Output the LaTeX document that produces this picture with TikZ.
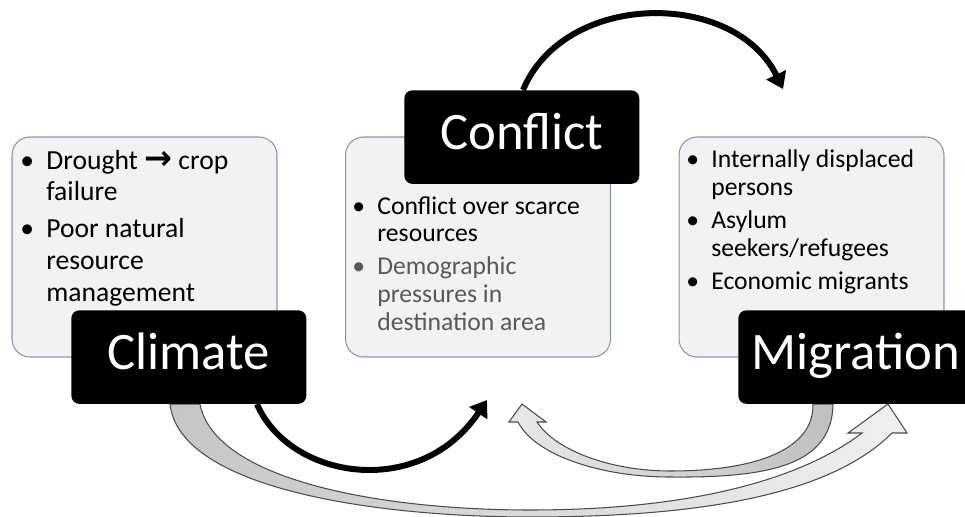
\documentclass[tikz,border=0pt]{standalone}
\usepackage{fontspec}
\setmainfont{Carlito}
\newfontfamily\arrowfont{DejaVu Sans}
\usetikzlibrary{arrows.meta,calc,backgrounds}
\definecolor{boxfill}{HTML}{F2F2F2}
\definecolor{boxline}{HTML}{8497B0}
\definecolor{softtext}{HTML}{595959}
\newcommand{\bul}{\leavevmode\llap{\textbullet\hspace{7pt}}}

\begin{document}
\begin{tikzpicture}[
  x=0.02cm, y=-0.02cm,
  infobox/.style={draw=boxline, fill=boxfill, line width=0.6pt, rounded corners=0.36cm, minimum width=5.3cm, minimum height=4.4cm, inner sep=0pt},
  titlebox/.style={fill=black, text=white, rounded corners=0.16cm, minimum width=4.7cm, minimum height=1.87cm, inner sep=0pt, font=\fontsize{30pt}{36pt}\selectfont, text height=13.6pt, text depth=0pt, anchor=north west},
  bullets/.style={align=left, anchor=north west, inner sep=0pt},
  bigtext/.style={font=\fontsize{15.7pt}{18.2pt}\selectfont},
  smalltext/.style={font=\fontsize{14.6pt}{15.9pt}\selectfont},
  flowline/.style={line width=3.4pt, -{Triangle[length=9pt,width=12pt]}},
  broad/.style={draw=black!70, line width=0.6pt}
]
\useasboundingbox (0,0) rectangle (965,517);
\clip (0,0) rectangle (965,517);

% info boxes
\node[infobox] (climbox) at (144.5,247) {};
\node[infobox] (confbox) at (478,247) {};
\node[infobox] (migbox) at (811.5,247) {};

% bullet texts
\node[bullets, bigtext] (climtext) at (46,149.5) {\bul Drought {\arrowfont\bfseries\fontsize{19pt}{18pt}\selectfont →} crop\\ failure\\[2.8pt] \bul Poor natural\\ resource\\ management};
\node[bullets, smalltext] (conftext) at (377,196) {\bul Conflict over scarce\\ resources\\[2.8pt] \textcolor{softtext}{\bul Demographic}\\ \textcolor{softtext}{pressures in}\\ \textcolor{softtext}{destination area}};
\node[bullets, smalltext] (migtext) at (711,149.5) {\bul Internally displaced\\ persons\\[2.8pt] \bul Asylum\\ seekers/refugees\\[2.8pt] \bul Economic migrants};

% titles
\node[titlebox] (climtitle) at (71,310) {Climate};
\node[titlebox] (conftitle) at (404,90) {Conflict};
\node[titlebox] (migtitle) at (738,310) {Migration};

\begin{scope}[on background layer]
\coordinate (climA) at ($(climtitle.south west)+(99,0)$);
\coordinate (climB) at ($(climtitle.south west)+(129,0)$);
\coordinate (climC) at ($(climtitle.south west)+(186,0)$);
\coordinate (confA) at ($(conftitle.north west)+(119,0)$);
\coordinate (migA) at ($(migtitle.south west)+(75,0)$);
\coordinate (migB) at ($(migtitle.south west)+(95,0)$);
\coordinate (migin) at (783,89);
\coordinate (confin) at (487,400);
\coordinate (migtip) at (888,404);
\coordinate (conftip) at (522,404);

% solid links
\draw[flowline] (confA) .. controls (565,-10) and (735,-10) .. (migin);
\draw[flowline] (climC) .. controls (290,480) and (420,500) .. (confin);

% broad links
\path[broad, left color=gray!45, right color=gray!12]
  (climA) .. controls (180,490) and (380,517) .. (530,517)
  .. controls (700,517) and (830,495) .. (892,433)
  -- (907,433) -- (migtip) -- (848,433) -- (862,433)
  .. controls (800,480) and (690,510) .. (530,510)
  .. controls (380,510) and (215,480) .. (climB) -- cycle;
\path[broad, left color=gray!18, right color=gray!50]
  (migB) .. controls (832,465) and (770,478) .. (670,477)
  .. controls (600,477) and (535,455) .. (518,422)
  -- (509,422) -- (conftip) -- (546,422) -- (537,422)
  .. controls (555,450) and (610,471) .. (670,471)
  .. controls (755,471) and (814,450) .. (migA) -- cycle;
\end{scope}
\end{tikzpicture}
\end{document}
